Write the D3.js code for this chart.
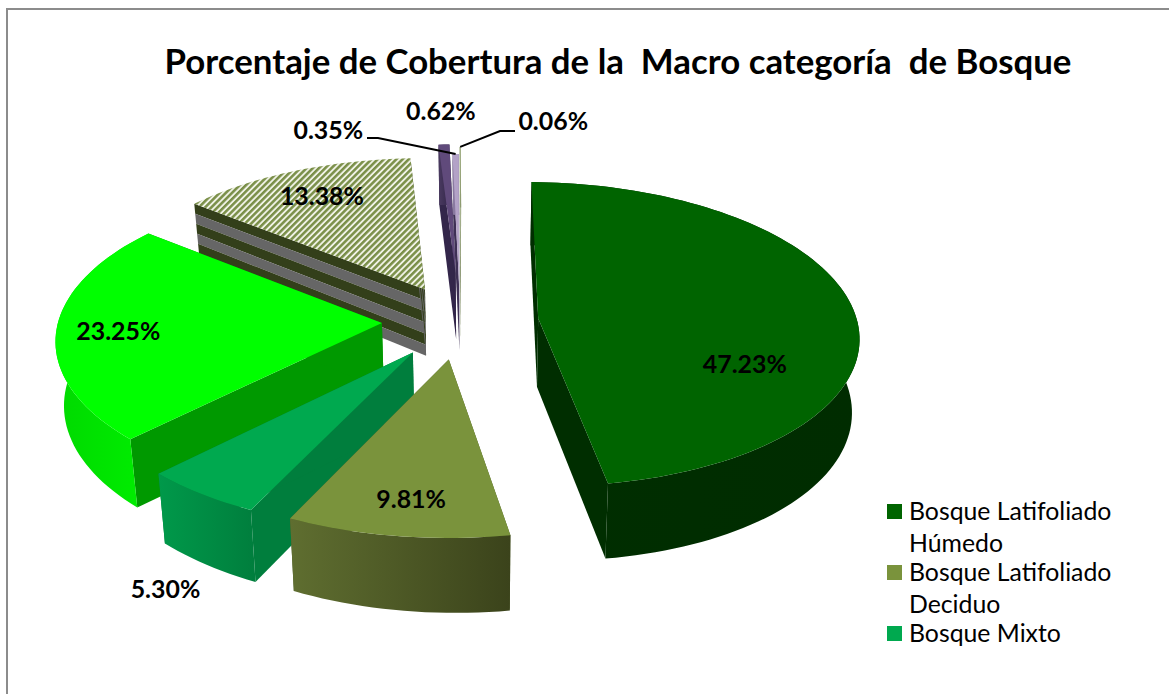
<!DOCTYPE html>
<meta charset="utf-8">
<style>
html, body { margin: 0; padding: 0; background: #fff; overflow: hidden; }
text { font-family: Lato, "Noto Sans", sans-serif; fill: #000; white-space: pre; }
</style>
<script src="https://d3js.org/d3.v7.min.js"></script>
<div id="chart"></div>
<script>
// values
var categories = ["Bosque Latifoliado Húmedo", "Bosque Latifoliado Deciduo", "Bosque Mixto",
                  "Serie 4", "Serie 5", "Serie 6", "Serie 7", "Serie 8"];
var values = [47.23, 9.81, 5.30, 23.25, 13.38, 0.62, 0.35, 0.06];
var labels = ["47.23%", "9.81%", "5.30%", "23.25%", "13.38%", "0.62%", "0.35%", "0.06%"];
var legendLines = [["Bosque Latifoliado", "Húmedo"], ["Bosque Latifoliado", "Deciduo"], ["Bosque Mixto"]];

// how far each slice is pulled out, in pie radii
var explode = [0.245, 0.25, 0.25, 0.243, 0.24, 0.33, 0.25, 0.31];

// colours: top, cut face, outer side left, outer side right
var topColors  = ["#006400", "#7a933c", "#00a94f", "#00ff00", "url(#hatch)", "#604a7b", "#b3a2c7", "#a9b78b"];
var cutColors  = ["#002e00", "#4a5a24", "#007e3d", "#009900", "#5c5c5c", "#33264a", "#3e3055", "#77845a"];
var sideLeft   = ["#002e00", "#5f6e30", "#00994a", "#00d900", "#666666", "#4a3a60", "#8a7aa0", "#77845a"];
var sideRight  = ["#002c00", "#3b431b", "#007e3d", "#00f000", "#666666", "#33264a", "#8a7aa0", "#77845a"];

var width = 1169, height = 694;
var svg = d3.select("#chart").append("svg")
  .attr("width", width)
  .attr("height", height)
  .style("display", "block");

var defs = svg.append("defs");
var hatch = defs.append("pattern")
  .attr("id", "hatch")
  .attr("patternUnits", "userSpaceOnUse")
  .attr("width", 4.4).attr("height", 4.4)
  .attr("patternTransform", "rotate(45)");
hatch.append("rect").attr("width", 4.4).attr("height", 4.4).attr("fill", "#f0f2e6");
hatch.append("rect").attr("width", 2.5).attr("height", 4.4).attr("fill", "#7a8f48");

sideLeft.forEach(function(c, i) {
  var g = defs.append("linearGradient").attr("id", "side" + i);
  g.append("stop").attr("offset", "0%").attr("stop-color", c);
  g.append("stop").attr("offset", "100%").attr("stop-color", sideRight[i]);
});

// chart frame, runs off the page right and bottom
svg.append("rect")
  .attr("x", 7).attr("y", 9)
  .attr("width", 1300).attr("height", 900)
  .attr("fill", "#fff")
  .attr("stroke", "#8c8c8c")
  .attr("stroke-width", 2);

svg.append("text")
  .attr("x", 618).attr("y", 74)
  .attr("text-anchor", "middle")
  .style("font-size", "34.8px")
  .style("font-weight", 700)
  .text("Porcentaje de Cobertura de la  Macro categoría  de Bosque");

// pie angles, rotated a little to the left of 12 o'clock
var startAngle = -2 * Math.PI / 180;
var arcs = d3.pie().sort(null)
  .startAngle(startAngle)
  .endAngle(startAngle + 2 * Math.PI)(values);

// disc coordinates to screen, with perspective
var x = d3.scaleLinear().domain([-1, 1]).range([460 - 321, 460 + 321]);
var y = d3.scaleLinear().domain([-1, 1]).range([321 - 151, 321 + 151]);
var persp = 0.105;
var depth = 68;
var shearX = -12, shearY = 7;

function project(px, py, z) {
  var s = 1 / (1 - persp * py);
  var sx = x(px * s) + shearX * py * s;
  var sy = y(py * s) + shearY * px * s;
  if (z) {
    // lower rim sits closer to the middle and moves further down at the front
    sx = 480 + (sx - 480) * (1 - 0.02 * z);
    sy = sy + z * depth * (1 + 0.08 * py + 0.06 * px);
  }
  return [sx, sy];
}

function discPoint(d, i, r, a, z) {
  var mid = (d.startAngle + d.endAngle) / 2;
  return project(explode[i] * Math.sin(mid) + r * Math.sin(a),
                 -explode[i] * Math.cos(mid) - r * Math.cos(a), z);
}

function rimAngles(d) {
  var n = Math.max(2, Math.ceil((d.endAngle - d.startAngle) / 0.03));
  return d3.range(n + 1).map(function(k) {
    return d.startAngle + (d.endAngle - d.startAngle) * k / n;
  });
}

var line = d3.line();
var bands = d3.range(6);

// paint the far slices first
var drawOrder = [7, 5, 6, 0, 4, 3, 2, 1];

drawOrder.forEach(function(i) {
  var d = arcs[i];
  var g = svg.append("g");

  function cut(a, z0, z1) {
    return line([discPoint(d, i, 0, a, z0), discPoint(d, i, 1, a, z0),
                 discPoint(d, i, 1, a, z1), discPoint(d, i, 0, a, z1)]) + "Z";
  }
  function rim(z0, z1) {
    var as = rimAngles(d);
    var up = as.map(function(a) { return discPoint(d, i, 1, a, z0); });
    var down = as.slice().reverse().map(function(a) { return discPoint(d, i, 1, a, z1); });
    return line(up.concat(down)) + "Z";
  }

  if (i === 4) {
    // striped sides of the hatched slice
    [d.startAngle, d.endAngle].forEach(function(a) {
      bands.forEach(function(b) {
        g.append("path")
          .attr("d", cut(a, b / 6, (b + 1) / 6))
          .attr("fill", b % 2 ? "#666666" : "#333f1a");
      });
    });
  } else {
    [d.startAngle, d.endAngle].forEach(function(a) {
      g.append("path").attr("d", cut(a, 0, 1)).attr("fill", cutColors[i]);
    });
    g.append("path").attr("d", rim(0, 1)).attr("fill", "url(#side" + i + ")");
  }

  var top = [discPoint(d, i, 0, d.startAngle, 0)]
    .concat(rimAngles(d).map(function(a) { return discPoint(d, i, 1, a, 0); }));
  g.append("path").attr("d", line(top) + "Z").attr("fill", topColors[i]);
});

// data labels: radial position on the slice, then a small nudge
var labelRadius = [0.62, 0.62, 1.2, 0.82, 0.7, 1.1, 1.1, 1.1];
var labelNudge = [[11, 62], [-7, 44], [12, 72], [3, 10], [-9, 0], [-2, -13], [-127, -3], [93, -5]];

arcs.forEach(function(d, i) {
  var mid = (d.startAngle + d.endAngle) / 2;
  var p = discPoint(d, i, labelRadius[i], mid, 0);
  svg.append("text")
    .attr("x", p[0] + labelNudge[i][0])
    .attr("y", p[1] + labelNudge[i][1])
    .attr("text-anchor", "middle")
    .style("font-size", "24.9px")
    .style("font-weight", 700)
    .text(labels[i]);
});

// leader lines for the two thinnest slices
var leaders = [[6, 367, 138, 378, 138], [7, 515, 131, 500, 131]];
leaders.forEach(function(l) {
  var d = arcs[l[0]];
  var mid = (d.startAngle + d.endAngle) / 2;
  var p = discPoint(d, l[0], 1, mid, 0);
  svg.append("path")
    .attr("d", line([[l[1], l[2]], [l[3], l[4]], p]))
    .attr("fill", "none")
    .attr("stroke", "#000")
    .attr("stroke-width", 2);
});

// legend
var legend = svg.append("g").attr("transform", "translate(887,504)");
var legendRows = [0, 61, 122];
legendLines.forEach(function(lines, i) {
  legend.append("rect")
    .attr("y", legendRows[i])
    .attr("width", 15).attr("height", 15)
    .attr("fill", topColors[i]);
  lines.forEach(function(t, k) {
    legend.append("text")
      .attr("x", 22)
      .attr("y", legendRows[i] + 16 + k * 32)
      .style("font-size", "24.8px")
      .text(t);
  });
});
</script>
